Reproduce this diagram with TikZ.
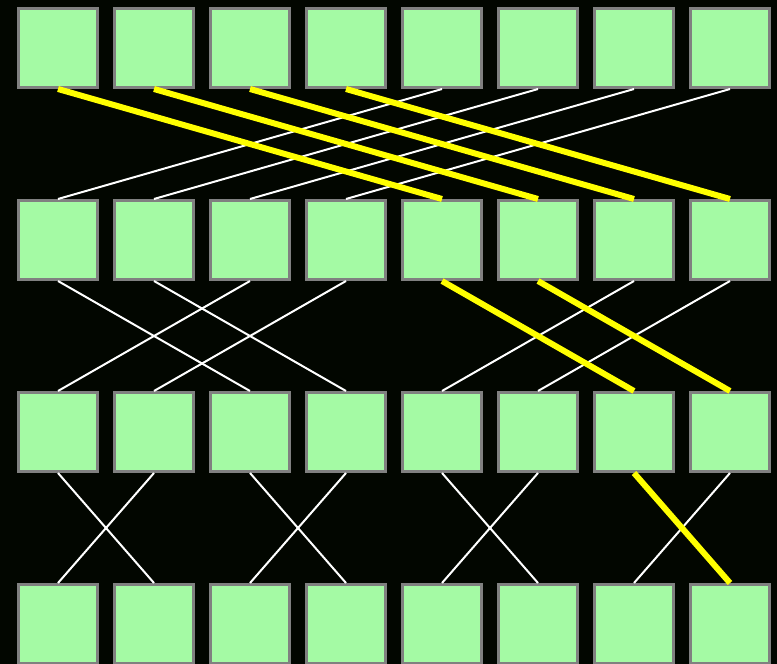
\documentclass[tikz,border=0pt]{standalone}
\usepackage{tikz}
\usetikzlibrary{positioning}
\usetikzlibrary{backgrounds}

\definecolor{cellgreen}{RGB}{164,250,164}
\definecolor{cellrim}{RGB}{128,128,128}
\definecolor{nightbg}{RGB}{2,6,0}
\definecolor{hotpath}{RGB}{255,255,0}

\begin{document}
\begin{tikzpicture}[
    x=1pt, y=-1pt,
    cell/.style={draw=cellrim, line width=3pt, fill=cellgreen, minimum size=79pt, inner sep=0pt},
    wire/.style={draw=white, line width=2pt},
    hot/.style={draw=hotpath, line width=6pt}
]
\fill[nightbg] (0,0) rectangle (777,664);
\useasboundingbox (0,0) rectangle (777,664);

% four rows of eight cells
\foreach \r/\yy in {a/48, b/240, c/432, d/624}
  \foreach \i in {0,...,7}
    \node[cell] (\r\i) at ({58+96*\i},\yy) {};

% stage 1: distance 4
\foreach \i in {0,...,3}
  \draw[wire] (a\the\numexpr\i+4\relax.south) -- (b\i.north);
% stage 2: distance 2
\foreach \s/\t in {0/2, 1/3, 2/0, 3/1, 6/4, 7/5}
  \draw[wire] (b\s.south) -- (c\t.north);
% stage 3: distance 1
\foreach \s/\t in {0/1, 1/0, 2/3, 3/2, 4/5, 5/4, 7/6}
  \draw[wire] (c\s.south) -- (d\t.north);

% highlighted paths
\foreach \i in {0,...,3}
  \draw[hot] (a\i.south) -- (b\the\numexpr\i+4\relax.north);
\draw[hot] (b4.south) -- (c6.north);
\draw[hot] (b5.south) -- (c7.north);
\draw[hot] (c6.south) -- (d7.north);
\end{tikzpicture}
\end{document}
